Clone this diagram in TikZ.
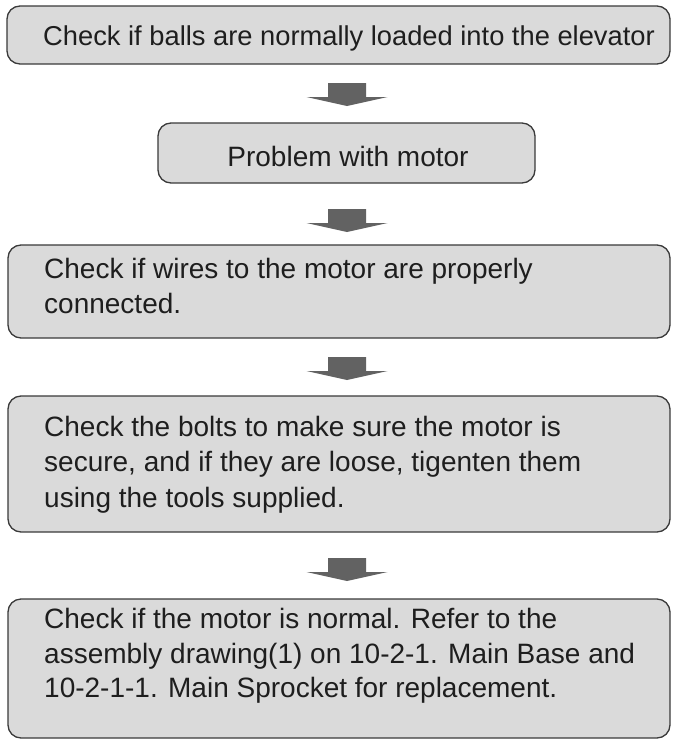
\documentclass[tikz,border=0pt]{standalone}
\usepackage{fontspec}
\setmainfont{Liberation Sans}
\definecolor{boxfill}{HTML}{DADADA}
\definecolor{boxline}{HTML}{3A3A3A}
\definecolor{arrowfill}{HTML}{626262}
\definecolor{txt}{HTML}{1E1E1E}
\begin{document}
\begin{tikzpicture}[x=1pt,y=-1pt,
  stepbox/.style={draw=boxline,fill=boxfill,line width=1.3pt,rounded corners=13pt},
  steptext/.style={anchor=base west,inner sep=0pt,text=txt,font=\fontsize{28}{34}\selectfont},
  blockarrow/.pic={\fill[arrowfill] (-19,0) -- (19,0) -- (19,14) -- (40.5,14) -- (0,23) -- (-40.5,14) -- (-19,14) -- cycle;}]
\useasboundingbox[fill=white] (0,0) rectangle (683,742);
% boxes
\draw[stepbox] (7,6) rectangle (670,64);
\draw[stepbox] (158,123) rectangle (535,183);
\draw[stepbox] (8,245) rectangle (670,338);
\draw[stepbox] (8,396) rectangle (670,532);
\draw[stepbox] (8,599) rectangle (670,738);
% texts
\node[steptext,anchor=base,font=\fontsize{27.3}{34}\selectfont] (t1) at (349,45) {Check if balls are normally loaded into the elevator};
\node[steptext,anchor=base] (t2) at (348,166) {Problem with motor};
\node[steptext] (t3a) at (44,278) {Check if wires to the motor are properly};
\node[steptext] (t3b) at (44,313) {connected.};
\node[steptext] (t4a) at (44,436) {Check the bolts to make sure the motor is};
\node[steptext] (t4b) at (44,471) {secure, and if they are loose, tigenten them};
\node[steptext] (t4c) at (44,507) {using the tools supplied.};
\node[steptext] (t5a) at (44,628) {Check if the motor is normal. Refer to the};
\node[steptext] (t5b) at (44,663) {assembly drawing(1) on 10-2-1. Main Base and};
\node[steptext] (t5c) at (44,697) {10-2-1-1. Main Sprocket for replacement.};
% arrows
\pic at (347,83) {blockarrow};
\pic at (347,209) {blockarrow};
\pic at (347,357) {blockarrow};
\pic at (347,558) {blockarrow};
\end{tikzpicture}
\end{document}
